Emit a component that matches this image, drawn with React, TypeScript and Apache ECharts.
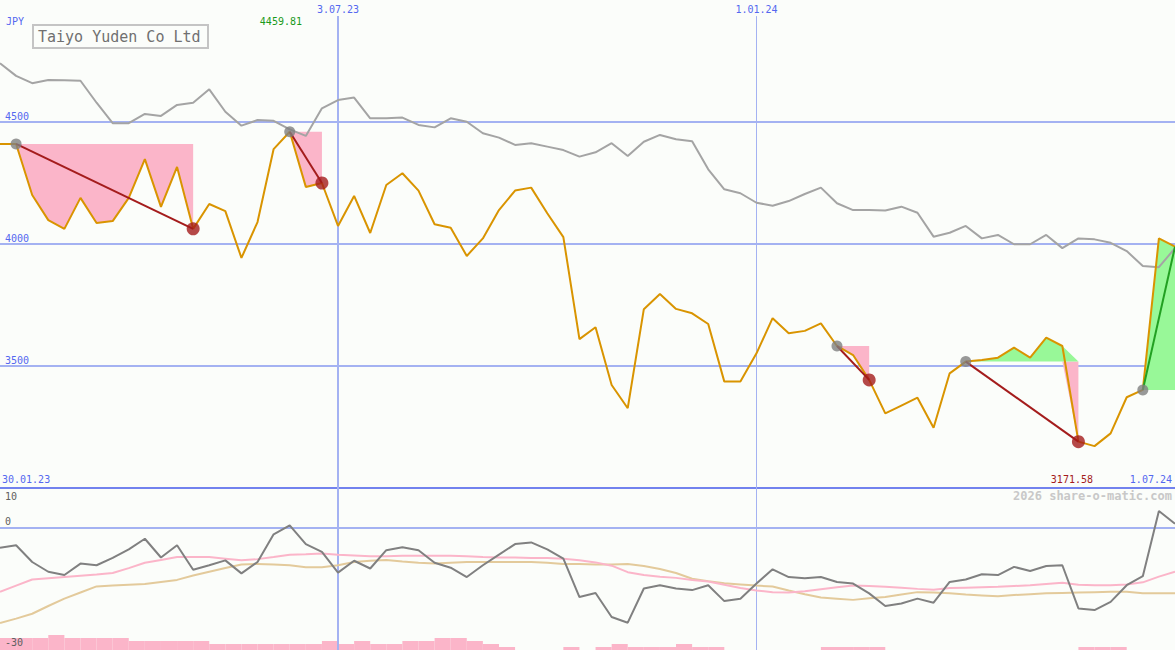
import React, { useEffect, useRef } from "react";
import * as echarts from "echarts";

// ---------- data ----------
const START_UTC = Date.UTC(2023, 1, 6);
const WEEK_MS = 7 * 86400000;
const dates: string[] = Array.from({ length: 74 }, (_, i) =>
  new Date(START_UTC + i * WEEK_MS).toISOString().slice(0, 10)
);
const intervals: string[] = dates.slice(0, 73);

const close: number[] = [
  4410, 4410, 4201, 4098, 4062, 4189, 4086, 4094, 4189, 4348,
  4152, 4316, 4062, 4164, 4135, 3943, 4090, 4389, 4459.81, 4234,
  4250, 4074, 4197, 4045, 4242, 4290, 4219, 4081, 4067, 3951,
  4023, 4139, 4219, 4231, 4126, 4028, 3610, 3659, 3422, 3327,
  3733, 3795, 3734, 3716, 3672, 3436, 3436, 3552, 3696, 3634,
  3644, 3675, 3582, 3545, 3443, 3306, 3338, 3370, 3247, 3470,
  3518, 3525, 3534, 3575, 3534, 3616, 3582, 3190, 3171.58, 3224,
  3372, 3402, 4023, 3989,
];

const indexLine: number[] = [
  4741, 4689, 4659, 4672, 4671, 4669, 4579, 4495, 4495, 4533,
  4525, 4570, 4579, 4634, 4542, 4485, 4508, 4505, 4470, 4443,
  4556, 4590, 4600, 4515, 4515, 4518, 4488, 4478, 4515, 4501,
  4454, 4436, 4406, 4413, 4399, 4385, 4358, 4376, 4413, 4361,
  4419, 4447, 4429, 4421, 4306, 4224, 4208, 4169, 4157, 4176,
  4205, 4231, 4167, 4139, 4139, 4137, 4153, 4128, 4030, 4046,
  4074, 4023, 4037, 3999, 3999, 4037, 3983, 4023, 4019, 4005,
  3971, 3910, 3905, 3983,
];

const momentum: number[] = [
  -4.9, -4.3, -8.4, -10.8, -11.6, -8.8, -9.2, -7.4, -5.3, -2.7,
  -7.3, -4.3, -10.3, -9.2, -8.0, -11.2, -8.4, -1.6, 0.6, -4.0,
  -5.9, -11.0, -8.1, -10.0, -5.5, -4.8, -5.5, -8.6, -9.8, -12.1,
  -9.2, -6.6, -4.0, -3.6, -5.3, -7.6, -17.0, -16.0, -21.9, -23.3,
  -14.9, -14.1, -14.9, -15.3, -14.1, -18.0, -17.4, -13.7, -10.2, -12.1,
  -12.4, -12.1, -13.3, -13.7, -16.1, -19.2, -18.6, -17.4, -18.4, -13.3,
  -12.7, -11.4, -11.6, -9.6, -10.6, -9.4, -9.2, -19.8, -20.2, -18.2,
  -14.1, -11.9, 4.1, 1.0,
];

const avgFast: number[] = [
  -15.7, -14.2, -12.7, -12.4, -12.1, -11.8, -11.5, -11.1, -9.9, -8.6,
  -7.9, -7.2, -7.2, -7.2, -7.6, -8.0, -7.7, -7.2, -6.6, -6.5,
  -6.3, -6.6, -6.8, -7.0, -7.0, -6.9, -6.9, -6.9, -6.9, -7.0,
  -7.2, -7.3, -7.3, -7.4, -7.4, -7.6, -8.0, -8.5, -9.3, -10.9,
  -11.6, -12.0, -12.3, -12.8, -13.2, -14.0, -14.8, -15.4, -15.8, -15.9,
  -15.6, -15.1, -14.6, -14.2, -14.3, -14.5, -14.7, -15.0, -15.2, -14.8,
  -14.7, -14.6, -14.5, -14.3, -14.1, -13.8, -13.5, -14.0, -14.1, -14.1,
  -13.9, -13.4, -12.0, -10.8,
];

const avgSlow: number[] = [
  -23.4, -22.3, -21.1, -19.2, -17.4, -15.9, -14.4, -14.2, -14.0, -13.8,
  -13.3, -12.8, -11.7, -10.8, -9.9, -9.0, -8.9, -9.0, -9.2, -9.7,
  -9.7, -9.2, -8.4, -8.1, -7.9, -8.3, -8.6, -8.8, -8.6, -8.4,
  -8.4, -8.4, -8.4, -8.4, -8.6, -8.9, -8.9, -9.0, -9.0, -8.9,
  -9.4, -10.1, -11.1, -12.5, -13.1, -13.6, -13.9, -14.2, -14.4, -15.4,
  -16.3, -17.1, -17.4, -17.7, -17.3, -17.0, -16.4, -15.8, -15.9, -16.1,
  -16.4, -16.6, -16.8, -16.5, -16.3, -16.1, -16.0, -15.9, -15.8, -15.7,
  -15.7, -16.1, -16.1, -16.1,
];

const signalBars: number[] = [
  4, 4, 4, 5, 4, 4, 4, 4, 3, 3,
  3, 3, 3, 2, 2, 2, 2, 2, 2, 2,
  3, 2, 3, 2, 2, 3, 3, 4, 4, 3,
  2, 1, 0, 0, 0, 1, 0, 1, 2, 1,
  1, 1, 2, 1, 1, 0, 0, 0, 0, 0,
  0, 1, 1, 1, 1, 0, 0, 0, 0, 0,
  0, 0, 0, 0, 0, 0, 0, 1, 1, 1,
  0, 0, 0,
];

const patternStarts: number[] = [1, 18, 52, 60, 71];
const patternEnds: number[] = [12, 20, 54, 67, 73];

const vLineDates: string[] = ["2023-07-03", "2024-01-01"];
const vLineLabels: string[] = ["3.07.23", "1.01.24"];
const vLineWidths: number[] = [2, 1];
const rangeLabels: string[] = ["30.01.23", "1.07.24"];
const title = "Taiyo Yuden Co Ltd";
const currency = "JPY";
const credit = "2026 share-o-matic.com";

// ---------- style ----------
const BG = "#fbfdfa";
const MONO = '"DejaVu Sans Mono", monospace';
const BLUE_TXT = "#5468f0";
const GRID_BLUE = "#a4b2f2";
const AXIS_BLUE = "#7282ee";
const PINK = "#fbb5c9";
const GREEN = "#98f898";
const ORANGE = "#d99400";
const GREY = "#a4a4a4";
const DARK = "#808080";
const TAN = "#e3ca9b";
const RED = "#a41c1c";
const DGREEN = "#22a022";
const V_TOP = 4934;

function buildOption() {
  const series: any[] = [];

  series.push({
    type: "line",
    xAxisIndex: 0,
    yAxisIndex: 0,
    data: indexLine,
    symbol: "none",
    lineStyle: { color: GREY, width: 2 },
    z: 4,
    silent: true,
    markLine: {
      z: 1,
      silent: true,
      symbol: ["none", "none"],
      data: vLineDates.map((d, k) => [
        {
          coord: [d, 3000],
          lineStyle: { color: GRID_BLUE, width: vLineWidths[k], type: "solid" },
          label: {
            show: true,
            position: "end",
            formatter: vLineLabels[k],
            color: BLUE_TXT,
            fontFamily: MONO,
            fontSize: 10,
            distance: 2,
          },
        },
        { coord: [d, V_TOP] },
      ]),
    },
  });

  patternStarts.forEach((s, k) => {
    const e = patternEnds[k];
    const base = close[s];
    const below = close.map((v, i) => (i >= s && i <= e ? Math.min(v, base) : "-"));
    const above = close.map((v, i) => (i >= s && i <= e ? Math.max(v, base) : "-"));
    series.push({
      type: "line",
      xAxisIndex: 0,
      yAxisIndex: 0,
      data: below,
      symbol: "none",
      silent: true,
      lineStyle: { width: 0, opacity: 0 },
      areaStyle: { color: PINK, opacity: 1, origin: base },
      z: 3,
    });
    series.push({
      type: "line",
      xAxisIndex: 0,
      yAxisIndex: 0,
      data: above,
      symbol: "none",
      silent: true,
      lineStyle: { width: 0, opacity: 0 },
      areaStyle: { color: GREEN, opacity: 1, origin: base },
      z: 3,
    });
  });

  series.push({
    type: "line",
    xAxisIndex: 0,
    yAxisIndex: 0,
    data: close,
    symbol: "none",
    lineStyle: { color: ORANGE, width: 2 },
    z: 5,
    silent: true,
  });

  patternStarts.forEach((s, k) => {
    const e = patternEnds[k];
    series.push({
      type: "line",
      xAxisIndex: 0,
      yAxisIndex: 0,
      data: close.map((v, i) => (i === s || i === e ? v : "-")),
      connectNulls: true,
      symbol: "none",
      lineStyle: { color: close[e] < close[s] ? RED : DGREEN, width: 2 },
      z: 6,
      silent: true,
    });
  });

  series.push({
    type: "scatter",
    xAxisIndex: 0,
    yAxisIndex: 0,
    data: patternStarts.map((s) => [dates[s], close[s]]),
    symbolSize: 11,
    itemStyle: { color: DARK },
    z: 7,
    silent: true,
  });
  series.push({
    type: "scatter",
    xAxisIndex: 0,
    yAxisIndex: 0,
    data: patternStarts
      .map((s, k) => [s, patternEnds[k]])
      .filter(([s, e]) => close[e] < close[s])
      .map(([, e]) => [dates[e], close[e]]),
    symbolSize: 13,
    itemStyle: { color: RED },
    z: 7,
    silent: true,
  });

  series.push({
    type: "bar",
    xAxisIndex: 2,
    yAxisIndex: 3,
    data: signalBars,
    barWidth: "100%",
    barCategoryGap: "0%",
    itemStyle: { color: PINK },
    z: 0,
    silent: true,
  });
  series.push({
    type: "line",
    xAxisIndex: 1,
    yAxisIndex: 1,
    data: avgSlow,
    symbol: "none",
    lineStyle: { color: TAN, width: 2 },
    z: 3,
    silent: true,
  });
  series.push({
    type: "line",
    xAxisIndex: 1,
    yAxisIndex: 1,
    data: avgFast,
    symbol: "none",
    lineStyle: { color: PINK, width: 2 },
    z: 3,
    silent: true,
  });
  series.push({
    type: "line",
    xAxisIndex: 1,
    yAxisIndex: 1,
    data: momentum,
    symbol: "none",
    lineStyle: { color: DARK, width: 2 },
    z: 4,
    silent: true,
    markLine: {
      z: 1,
      silent: true,
      symbol: ["none", "none"],
      label: { show: false },
      lineStyle: { color: GRID_BLUE, type: "solid" },
      data: [
        ...vLineDates.map((d, k) => ({ xAxis: d, lineStyle: { width: vLineWidths[k], color: GRID_BLUE, type: "solid" } })),
        { yAxis: 0, lineStyle: { width: 2, color: GRID_BLUE, type: "solid" } },
      ],
    },
  });

  const maxClose = Math.max(...close);
  const minClose = Math.min(...close);

  return {
    animation: false,
    backgroundColor: BG,
    grid: [
      { left: 0, right: 0, top: 0, height: 488 },
      { left: 0, right: 0, top: 487, height: 163 },
    ],
    xAxis: [
      {
        type: "category",
        gridIndex: 0,
        data: dates,
        boundaryGap: false,
        axisLine: { show: true, onZero: false, lineStyle: { color: AXIS_BLUE, width: 2 } },
        axisTick: { show: false },
        axisLabel: { show: false },
        splitLine: { show: false },
      },
      { type: "category", gridIndex: 1, data: dates, boundaryGap: false, show: false },
      { type: "category", gridIndex: 1, data: intervals, boundaryGap: true, show: false },
    ],
    yAxis: [
      {
        type: "value",
        gridIndex: 0,
        position: "left",
        min: 3000,
        max: 5000,
        interval: 500,
        axisLine: { show: false },
        axisTick: { show: false },
        splitLine: {
          show: true,
          showMinLine: false,
          showMaxLine: false,
          lineStyle: { color: GRID_BLUE, width: 2 },
        },
        axisLabel: {
          inside: true,
          margin: 5,
          verticalAlign: "bottom",
          color: BLUE_TXT,
          fontFamily: MONO,
          fontSize: 10,
          padding: [0, 0, 1, 0],
          formatter: (v: number) => (v === 3000 || v === 5000 ? "" : String(v)),
        },
      },
      {
        type: "value",
        gridIndex: 1,
        position: "left",
        offset: 0,
        min: -30,
        max: 10,
        interval: 10,
        axisLine: { show: false },
        axisTick: { show: false },
        splitLine: { show: false },
        axisLabel: {
          inside: true,
          margin: 5,
          verticalAlign: "bottom",
          color: "#606060",
          fontFamily: MONO,
          fontSize: 10,
          formatter: (v: number) => (v === 0 ? "{z|0}" : v === -30 ? "{m|-30}" : ""),
          rich: {
            z: { padding: [0, 0, 1, 0], color: "#606060", fontFamily: MONO, fontSize: 10 },
            m: { padding: [0, 0, 3, 0], color: "#606060", fontFamily: MONO, fontSize: 10 },
          },
        },
      },
      {
        type: "value",
        gridIndex: 1,
        position: "left",
        offset: 0,
        min: -30,
        max: 10,
        interval: 10,
        axisLine: { show: false },
        axisTick: { show: false },
        splitLine: { show: false },
        axisLabel: {
          inside: true,
          margin: 5,
          verticalAlign: "top",
          color: "#606060",
          fontFamily: MONO,
          fontSize: 10,
          padding: [4, 0, 0, 0],
          formatter: (v: number) => (v === 10 ? "10" : ""),
        },
      },
      { type: "value", gridIndex: 1, min: 0, max: 163 / 3, show: false },
    ],
    graphic: [
      {
        type: "text",
        x: 6,
        y: 21.5,
        style: { text: currency, fill: BLUE_TXT, font: `10px ${MONO}`, verticalAlign: "middle" },
      },
      {
        type: "rect",
        shape: { x: 33, y: 25, width: 175, height: 23 },
        style: { fill: "rgba(0,0,0,0)", stroke: "#c4c4c4", lineWidth: 2 },
      },
      {
        type: "text",
        x: 38,
        y: 36.5,
        style: { text: title, fill: "#707070", font: `15px ${MONO}`, verticalAlign: "middle" },
      },
      {
        type: "text",
        x: 302,
        y: 21.5,
        style: { text: maxClose.toFixed(2), fill: "#1a9a1a", font: `10px ${MONO}`, align: "right", verticalAlign: "middle" },
      },
      {
        type: "text",
        x: 1093,
        y: 479,
        style: { text: minClose.toFixed(2), fill: RED, font: `10px ${MONO}`, align: "right", verticalAlign: "middle" },
      },
      {
        type: "text",
        x: 2,
        y: 479,
        style: { text: rangeLabels[0], fill: BLUE_TXT, font: `10px ${MONO}`, verticalAlign: "middle" },
      },
      {
        type: "text",
        x: 1172,
        y: 479,
        style: { text: rangeLabels[1], fill: BLUE_TXT, font: `10px ${MONO}`, align: "right", verticalAlign: "middle" },
      },
      {
        type: "text",
        x: 1172,
        y: 496,
        style: { text: credit, fill: "#c8c8c8", font: `bold 12px ${MONO}`, align: "right", verticalAlign: "middle" },
      },
    ],
    series,
  };
}

export default function App() {
  const ref = useRef<HTMLDivElement>(null);
  useEffect(() => {
    document.body.style.margin = "0";
    document.body.style.background = BG;
    const chart = echarts.init(ref.current!, null, { renderer: "svg" });
    chart.setOption(buildOption() as any);
    return () => chart.dispose();
  }, []);
  return <div ref={ref} style={{ width: 1175, height: 650, background: BG }} />;
}
